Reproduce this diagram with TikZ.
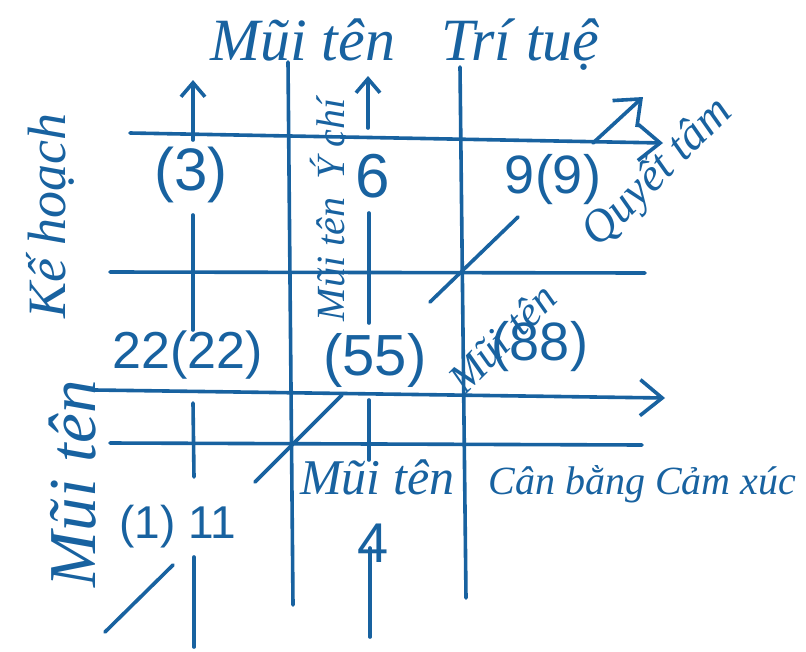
\documentclass[tikz,border=0pt]{standalone}
\usepackage{fontspec}
\setmainfont{Liberation Serif}
\newfontfamily\numfont{Liberation Sans}
\usetikzlibrary{arrows.meta}
\definecolor{ink}{RGB}{24,98,160}
\newcommand{\fsz}[1]{\fontsize{#1}{#1}\selectfont}
\begin{document}
\begin{tikzpicture}[x=1pt,y=-1pt,
  inkline/.style={draw=ink, line width=3.6pt, line cap=round},
  uparr/.style={inkline, -{Straight Barb[length=14pt,width=24pt]}},
  bigarr/.style={inkline, -{Straight Barb[length=22pt,width=36pt]}},
  hand/.style={text=ink, font=\itshape\fsz{#1}, inner sep=0pt},
  num/.style={text=ink, font=\numfont\fsz{#1}, inner sep=0pt}]
\useasboundingbox (0,0) rectangle (806,651);
\fill[white] (0,0) rectangle (806,651);

% coordinates
\coordinate (v1a) at (193,140); \coordinate (v1t) at (193,80);
\coordinate (v1b) at (193,215); \coordinate (v1c) at (193,330);
\coordinate (v1d) at (193,403); \coordinate (v1e) at (194,477);
\coordinate (v1f) at (194,557); \coordinate (v1g) at (194,647);
\coordinate (v2a) at (288,62);  \coordinate (v2b) at (293,605);
\coordinate (v3a) at (368,128); \coordinate (v3t) at (368,76);
\coordinate (v3b) at (369,213); \coordinate (v3c) at (369,323);
\coordinate (v3d) at (369,400); \coordinate (v3e) at (369,460);
\coordinate (v3f) at (370,548); \coordinate (v3g) at (370,637);
\coordinate (v4a) at (460,67);  \coordinate (v4b) at (466,598);
\coordinate (h1a) at (130,133); \coordinate (h1b) at (663,143);
\coordinate (h2a) at (110,272); \coordinate (h2b) at (645,273);
\coordinate (h3a) at (95,390);  \coordinate (h3b) at (665,398);
\coordinate (h4a) at (110,443); \coordinate (h4b) at (642,445);
\coordinate (d1a) at (105,632); \coordinate (d1b) at (173,565);
\coordinate (d2a) at (255,482); \coordinate (d2b) at (342,395);
\coordinate (d3a) at (430,302); \coordinate (d3b) at (518,217);
\coordinate (d4a) at (593,143); \coordinate (d4b) at (643,97);

% vertical lines
\draw[uparr] (v1a) -- (v1t);
\draw[inkline] (v1b) -- (v1c);
\draw[inkline] (v1d) -- (v1e);
\draw[inkline] (v1f) -- (v1g);
\draw[inkline] (v2a) -- (v2b);
\draw[uparr] (v3a) -- (v3t);
\draw[inkline] (v3b) -- (v3c);
\draw[inkline] (v3d) -- (v3e);
\draw[inkline] (v3f) -- (v3g);
\draw[inkline] (v4a) -- (v4b);
% horizontal lines
\draw[bigarr] (h1a) -- (h1b);
\draw[inkline] (h2a) -- (h2b);
\draw[bigarr] (h3a) -- (h3b);
\draw[inkline] (h4a) -- (h4b);
% diagonals
\draw[inkline] (d1a) -- (d1b);
\draw[inkline] (d2a) -- (d2b);
\draw[inkline] (d3a) -- (d3b);
\draw[bigarr] (d4a) -- (d4b);

% handwritten labels
\node[hand=60, anchor=base west] (title) at (210,60) {Mũi tên\hspace{46pt}Trí tuệ};
\node[hand=67, rotate=90, anchor=base] (kehoach) at (95,350)
  {Mũi tên\hspace{62pt}\raisebox{30pt}{\fsz{54}Kế hoạch}};
\node[hand=40, rotate=90] (ychi) at (328,210) {Mũi tên\hspace{18pt}Ý chí};
\node[hand=46, rotate=45] (quyettam) at (658,173) {Quyết tâm};
\node[hand=42, rotate=45] (mt88) at (502,338) {Mũi\hspace{14pt}tên};
\node[hand=50, anchor=base west] (canbang) at (300,494)
  {Mũi tên\hspace{34pt}{\fsz{40}Cân bằng Cảm xúc}};

% numbers
\node[num=60] (n3) at (191,175) {(3)};
\node[num=62] (n6) at (373,176) {6};
\node[num=54] (n9) at (553,180) {9(9)};
\node[num=52] (n22) at (188,355) {22(22)};
\node[num=58] (n55) at (375,360) {(55)};
\node[num=54] (n88) at (540,347) {(88)};
\node[num=46] (n11) at (178,527) {(1) 11};
\node[num=56] (n4) at (373,543) {4};
\end{tikzpicture}
\end{document}
